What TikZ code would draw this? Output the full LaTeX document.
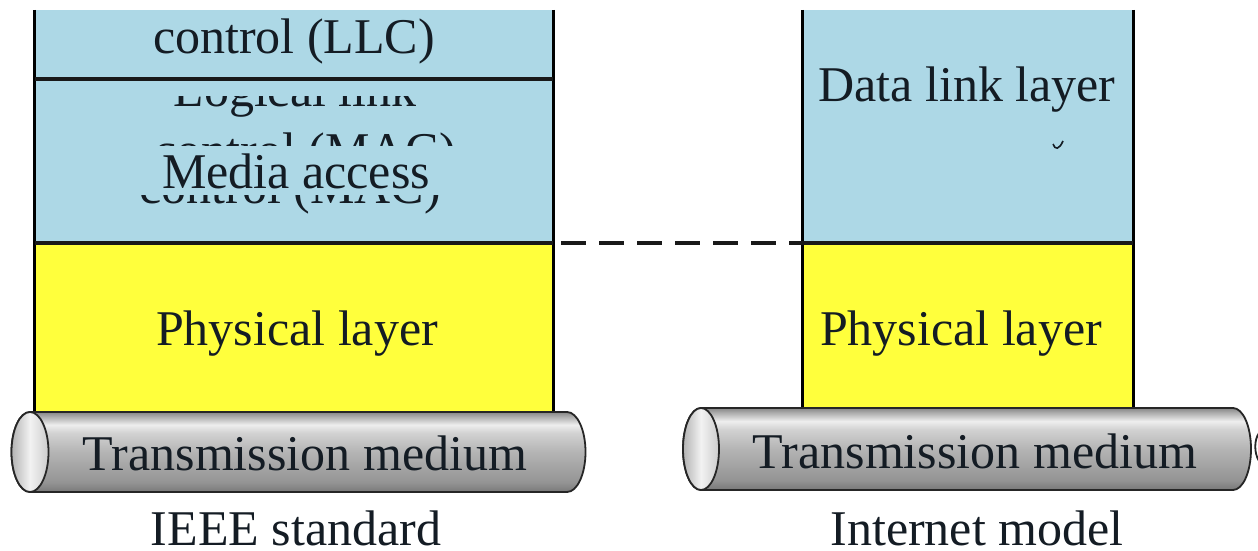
\documentclass[tikz,border=0pt]{standalone}
\usepackage{fontspec}
\setmainfont{Liberation Serif}
\usetikzlibrary{calc}
\definecolor{layerblue}{RGB}{173,216,230}
\definecolor{layeryellow}{RGB}{255,255,60}
\definecolor{inkc}{RGB}{20,28,36}
\definecolor{tA}{RGB}{120,120,120}
\definecolor{tB}{RGB}{148,148,148}
\definecolor{tC}{RGB}{180,180,180}
\definecolor{tD}{RGB}{210,210,210}
\definecolor{tE}{RGB}{238,238,238}
\definecolor{tF}{RGB}{175,175,175}
\definecolor{tG}{RGB}{135,135,135}
\pgfdeclareverticalshading{tubeshade}{100bp}{color(0bp)=(tA); color(25bp)=(tA); color(31bp)=(tB); color(50bp)=(tC); color(62bp)=(tD); color(67bp)=(tE); color(72bp)=(tF); color(75bp)=(tG); color(100bp)=(tG)}
\newcommand\mytube[5]{%
  \shadedraw[shading=tubeshade, draw=black!85, line width=1.8pt]
    (#1,#3+#5) -- (#2,#3+#5) arc[start angle=90, end angle=-90, x radius=#4, y radius=#5]
    -- (#1,#3-#5) arc[start angle=270, end angle=90, x radius=#4, y radius=#5] -- cycle;
  \shadedraw[left color=gray!60, right color=gray!40, middle color=gray!10, draw=black!85, line width=1.8pt]
    (#1,#3) ellipse[x radius=#4, y radius=#5];
}
\tikzset{
  bluebox/.style={rectangle, fill=layerblue, inner sep=0pt},
  yellowbox/.style={rectangle, fill=layeryellow, inner sep=0pt},
  edge/.style={line width=3pt, black},
  sepline/.style={line width=4pt, black!90},
  dashline/.style={line width=4pt, black!90, dash pattern=on 25pt off 13pt},
  lbl/.style={text=inkc, font=\fontsize{50}{60}\selectfont, inner sep=0pt, anchor=base},
}
\begin{document}
\begin{tikzpicture}[x=1pt,y=1pt]
\useasboundingbox[fill=white] (0,0) rectangle (1258,550);

% left stack (IEEE)
\node[bluebox, minimum width=518pt, minimum height=69pt] (llc) at (294,505.5) {};
\node[bluebox, minimum width=518pt, minimum height=164pt] (mac) at (294,389) {};
\node[yellowbox, minimum width=518pt, minimum height=168pt] (phyL) at (294,223) {};

% right stack (Internet)
\node[bluebox, minimum width=330pt, minimum height=233pt] (dll) at (968,423.5) {};
\node[yellowbox, minimum width=330pt, minimum height=165pt] (phyR) at (968,224.5) {};

% texts
\node[lbl] (tllc) at (294,496) {control (LLC)};
\begin{scope}
  \clip (40,453) rectangle (548,425);
  \node[lbl] (tlog) at (295,443) {Logical link};
\end{scope}
\begin{scope}
  \clip (40,425) rectangle (548,404);
  \node[lbl] (tmac1) at (305,382) {control (MAC)};
\end{scope}
\begin{scope}
  \clip (40,355) rectangle (548,335);
  \node[lbl] (tmac2) at (290,347) {control (MAC)};
\end{scope}
\node[lbl] (tmedia) at (296,362) {Media access};
\node[lbl] (tphyL) at (297,205) {Physical layer};
\node[lbl] (tdll) at (967,448) {Data link layer};
\node[lbl] (tphyR) at (961,205) {Physical layer};
\draw[inkc, line width=1.6pt] (1053,406) .. controls (1055,400) and (1059,400) .. (1063,409);

% borders
\draw[edge] (llc.north west) -- (phyL.south west);
\draw[edge] (llc.north east) -- (phyL.south east);
\draw[sepline] (llc.south west) -- (llc.south east);
\draw[sepline] (mac.south west) -- (mac.south east);
\draw[edge] (dll.north west) -- (phyR.south west);
\draw[edge] (dll.north east) -- (phyR.south east);
\draw[sepline] (dll.south west) -- (dll.south east);

% dashed connector
\draw[dashline] ([xshift=8pt]mac.south east) -- (dll.south west);

% transmission media
\mytube{30}{567}{98}{18.5}{40}
\node[lbl] (tmedL) at (305,80) {Transmission medium};
\mytube{701}{1233}{101}{18}{41}
\node[lbl] (tmedR) at (975,82) {Transmission medium};
\draw[black!85, line width=1.8pt] (1259,117) .. controls (1254,110) and (1254,97) .. (1259,89);

% captions
\node[lbl] (capL) at (296,5) {IEEE standard};
\node[lbl] (capR) at (977,5) {Internet model};
\end{tikzpicture}
\end{document}
